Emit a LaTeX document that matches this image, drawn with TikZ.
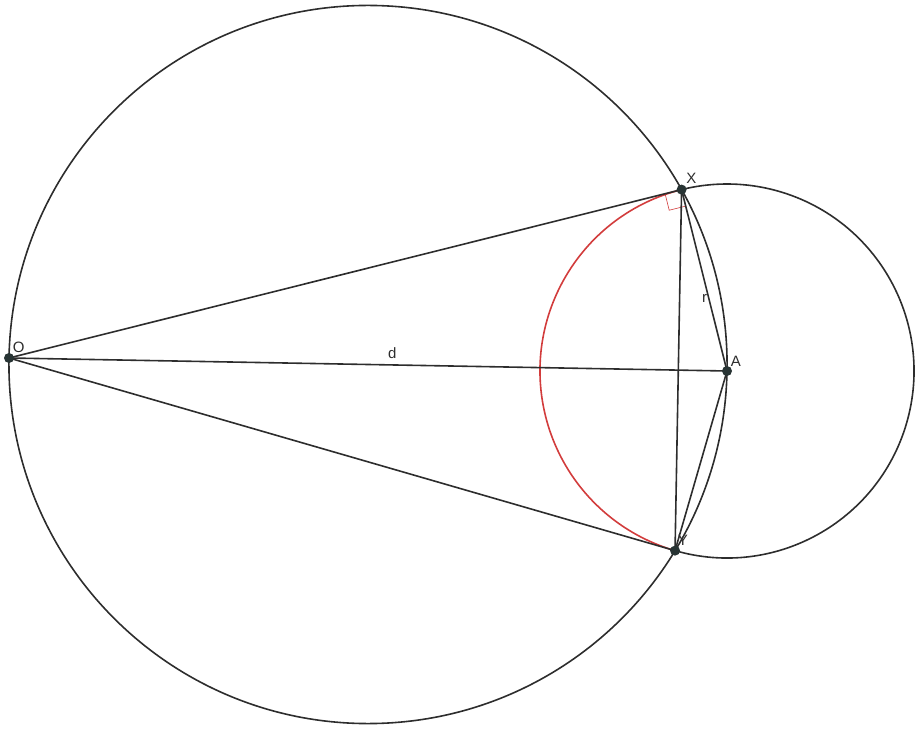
\documentclass[tikz,border=0pt]{standalone}
\usepackage{fontspec}
\setmainfont{Liberation Sans}
\usepackage{tikz}
\usetikzlibrary{calc,positioning}

\definecolor{ink}{RGB}{45,45,45}
\definecolor{dot}{RGB}{40,52,52}
\definecolor{arcred}{RGB}{210,60,60}

\begin{document}
\begin{tikzpicture}[x=1pt,y=1pt,line width=1.6pt,draw=ink,
    lbl/.style={text=ink,font=\fontsize{15}{17}\selectfont,inner sep=2pt}]

\useasboundingbox (0,0) rectangle (918,729);

\coordinate (O) at (9,371);
\coordinate (A) at (727,358);
\coordinate (X) at (681.58,539.4);
\coordinate (Y) at (675.04,178.36);
\coordinate (M) at ($(O)!0.5!(A)$);

% circle on OA as diameter
\draw (M) circle (359.06);

% circle about A, red part inside
\draw [arcred] ($(A)+(104.06:187)$) arc [start angle=104.06, end angle=253.87, radius=187];
\draw ($(A)+(253.87:187)$) arc [start angle=253.87, end angle=464.06, radius=187];

% right angle at X
\coordinate (Xo) at ($(X)!17pt!(O)$);
\coordinate (Xa) at ($(X)!17pt!(A)$);
\draw [arcred, line width=0.6pt] (Xo) -- ($(Xo)+(Xa)-(X)$) -- (Xa);

\draw (O) -- (X);
\draw (O) -- (Y);
\draw (O) -- (A) node [lbl, pos=0.534, above=3pt] (d) {d};
\draw (X) -- (Y);
\draw (X) -- (A) node [lbl, pos=0.6, left=-1pt] (r) {r};
\draw (A) -- (Y);

\foreach \i in {O,A,X,Y}
    \fill [dot] (\i) circle (5pt);

\node [lbl, above right=3pt and 1pt of O] (lO) {O};
\node [lbl, above right=3pt and 2pt of X] (lX) {X};
\node [lbl, above right=2pt and 1pt of A] (lA) {A};
\node [lbl, above right=2pt and 0pt of Y] (lY) {Y};

\end{tikzpicture}
\end{document}
